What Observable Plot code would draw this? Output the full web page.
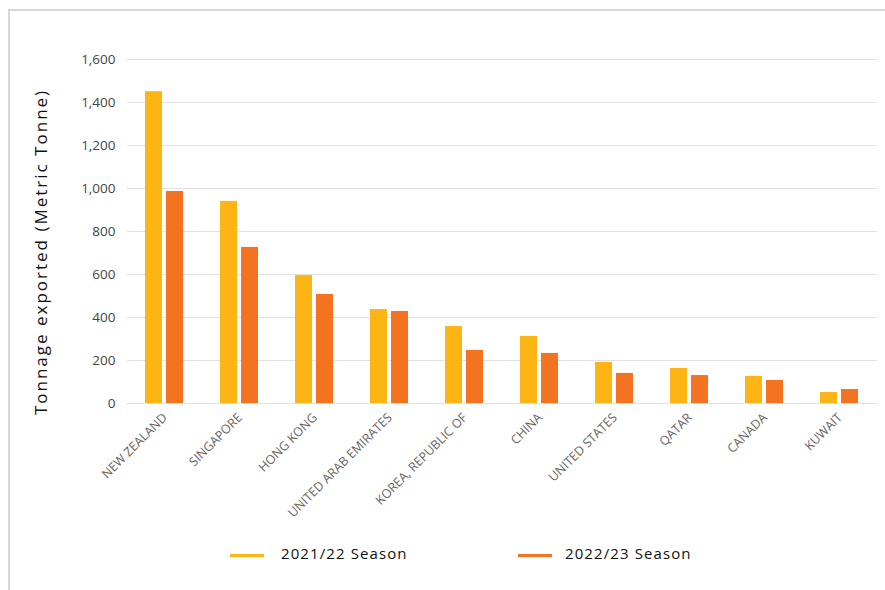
<!DOCTYPE html>
<html>
<head>
<meta charset="utf-8">
<script src="https://cdn.jsdelivr.net/npm/d3@7"></script>
<script src="https://cdn.jsdelivr.net/npm/@observablehq/plot@0.6"></script>
<style>
  html, body { margin: 0; padding: 0; background: #fff; }
  body { width: 885px; height: 590px; position: relative; overflow: hidden; font-family: "Open Sans", sans-serif; }
  #frame { position: absolute; left: 8px; top: 9px; right: 0; bottom: 0; border-top: 2px solid #d6d6d6; border-left: 2px solid #d6d6d6; }
  #chart { position: absolute; left: 0; top: 0; }
  #ylabel { position: absolute; left: 40px; top: 252px; transform: translate(-50%, -50%) rotate(-90deg); white-space: nowrap; font-size: 17px; letter-spacing: 2px; color: #111; }
  .sw { position: absolute; height: 3px; width: 34px; top: 554px; }
  .lt { position: absolute; top: 543px; font-size: 15px; letter-spacing: 1.1px; color: #111; white-space: nowrap; }
</style>
</head>
<body>
<div id="frame"></div>
<div id="chart"></div>
<div id="ylabel">Tonnage exported (Metric Tonne)</div>
<div id="legend"></div>
<script>
const countries = ["NEW ZEALAND", "SINGAPORE", "HONG KONG", "UNITED ARAB EMIRATES", "KOREA, REPUBLIC OF", "CHINA", "UNITED STATES", "QATAR", "CANADA", "KUWAIT"];
const season2122 = [1450, 940, 595, 437, 358, 312, 191, 163, 126, 51];
const season2223 = [986, 726, 507, 428, 247, 233, 140, 130, 107, 65];
const seasons = ["2021/22 Season", "2022/23 Season"];
const colors = ["#FDB515", "#F47321"];
const yTicks = [0, 200, 400, 600, 800, 1000, 1200, 1400, 1600];

const data = countries.flatMap((c, i) => [
  {country: c, season: seasons[0], value: season2122[i]},
  {country: c, season: seasons[1], value: season2223[i]}
]);

const fmt = d3.format(",");

const chart = Plot.plot({
  width: 885,
  height: 520,
  marginTop: 59,
  marginBottom: 117,
  marginLeft: 127,
  marginRight: 8,
  style: {fontFamily: "Open Sans, sans-serif", background: "transparent"},
  fx: {domain: countries, padding: 0, label: null},
  x: {domain: seasons, paddingInner: 0.19, paddingOuter: 0.88, axis: null},
  y: {domain: [0, 1600], label: null},
  color: {domain: seasons, range: colors},
  marks: [
    Plot.gridY(yTicks, {stroke: "#e2e2e2", strokeOpacity: 1, strokeWidth: 1}),
    Plot.axisY(yTicks, {tickSize: 0, tickPadding: 12, tickFormat: d => fmt(d), fontSize: 13.5, fill: "#444", label: null, letterSpacing: "0.4px"}),
    Plot.axisFx({anchor: "bottom", tickRotate: -45, tickSize: 0, tickPadding: 12, fontSize: 12.5, fill: "#666", label: null, letterSpacing: "1px"}),
    Plot.barY(data, {fx: "country", x: "season", y: "value", fill: "season"})
  ]
});
document.getElementById("chart").appendChild(chart);

const legend = document.getElementById("legend");
const swX = [230, 518];
const txX = [281, 565];
seasons.forEach((s, i) => {
  const sw = document.createElement("div");
  sw.className = "sw";
  sw.style.left = swX[i] + "px";
  sw.style.background = colors[i];
  legend.appendChild(sw);
  const t = document.createElement("div");
  t.className = "lt";
  t.style.left = txX[i] + "px";
  t.textContent = s;
  legend.appendChild(t);
});
</script>
</body>
</html>
